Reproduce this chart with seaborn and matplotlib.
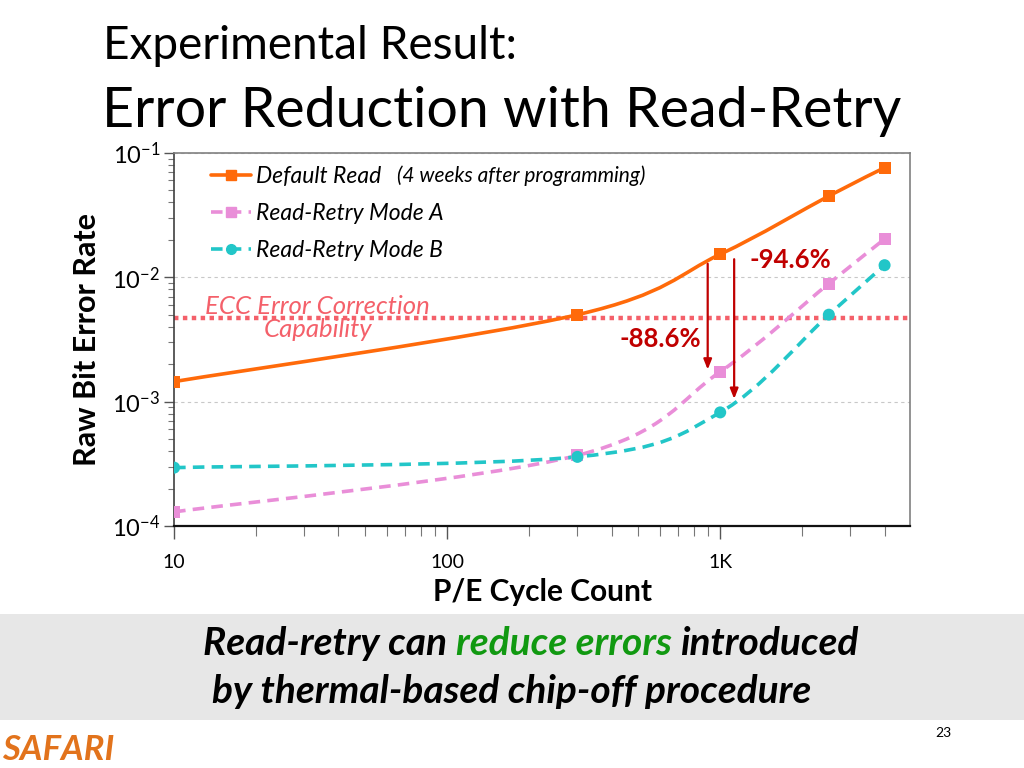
import numpy as np
import pandas as pd
import seaborn as sns
from matplotlib import pyplot as plt
from matplotlib.path import Path
from matplotlib.patches import PathPatch, Rectangle
from matplotlib.lines import Line2D

# Datos
pe_cycles = [10, 300, 1000, 2500, 4000]
default_read = [1.45e-3, 5.0e-3, 1.53e-2, 4.5e-2, 7.6e-2]
retry_a = [1.30e-4, 3.7e-4, 1.74e-3, 8.9e-3, 2.03e-2]
retry_b = [2.95e-4, 3.6e-4, 8.2e-4, 5.0e-3, 1.25e-2]
series_names = ["Default Read", "Read-Retry Mode A", "Read-Retry Mode B"]
ecc_limit = 4.7e-3
y_ticks = [1e-4, 1e-3, 1e-2, 1e-1]
y_tick_labels = ["$10^{-4}$", "$10^{-3}$", "$10^{-2}$", "$10^{-1}$"]
x_ticks = [10, 100, 1000]
x_tick_labels = ["10", "100", "1K"]

colors = {"Default Read": "#FF6A0A", "Read-Retry Mode A": "#E98ED8", "Read-Retry Mode B": "#22C6C8"}
markers = {"Default Read": "s", "Read-Retry Mode A": "s", "Read-Retry Mode B": "o"}
dashes = {"Default Read": "-", "Read-Retry Mode A": (0, (3.2, 2)), "Read-Retry Mode B": (0, (3.2, 2))}

df = pd.DataFrame({
    "pe": pe_cycles * 3,
    "rber": default_read + retry_a + retry_b,
    "serie": [s for s in series_names for _ in pe_cycles],
})

sns.set_theme(style="white")
plt.rcParams["font.family"] = ["Lato", "DejaVu Sans"]
plt.rcParams["mathtext.fontset"] = "custom"
plt.rcParams["mathtext.rm"] = "Lato"
plt.rcParams["mathtext.it"] = "Lato:italic"
plt.rcParams["mathtext.bf"] = "Lato:bold"
for clave in ["text.color", "axes.labelcolor", "xtick.labelcolor", "ytick.labelcolor"]:
    plt.rcParams[clave] = "black"

fig = plt.figure(figsize=(10.24, 7.68), dpi=100)
ax = fig.add_axes([0.170, 0.315, 0.719, 0.486])
ax.set_xscale("log")
ax.set_yscale("log")
ax.set_xlim(10, 4970)
ax.set_ylim(1e-4, 1e-1)


# Linea suavizada tipo Excel (Bezier en espacio log)
def curva_suave(xs, ys):
    lx = np.log10(xs)
    ly = np.log10(ys)
    n = len(lx)
    verts = [(lx[0], ly[0])]
    codes = [Path.MOVETO]
    for i in range(n - 1):
        p0 = max(i - 1, 0)
        p3 = min(i + 2, n - 1)
        c1 = (lx[i] + (lx[i + 1] - lx[p0]) / 6, ly[i] + (ly[i + 1] - ly[p0]) / 6)
        c2 = (lx[i + 1] - (lx[p3] - lx[i]) / 6, ly[i + 1] - (ly[p3] - ly[i]) / 6)
        verts += [c1, c2, (lx[i + 1], ly[i + 1])]
        codes += [Path.CURVE4] * 3
    verts = [(10 ** a, 10 ** b) for a, b in verts]
    return Path(verts, codes)


for nom in series_names:
    sub = df[df["serie"] == nom]
    patch = PathPatch(curva_suave(sub["pe"].values, sub["rber"].values), facecolor="none",
                      edgecolor=colors[nom], lw=2.6, linestyle=dashes[nom],
                      capstyle="butt", zorder=3)
    ax.add_patch(patch)

sns.scatterplot(data=df, x="pe", y="rber", hue="serie", style="serie",
                palette=colors, markers=markers, s=75, edgecolor="none",
                legend=False, ax=ax, zorder=4)

# Linea ECC
ax.axhline(ecc_limit, color="#F4606A", lw=3.2, linestyle=(0, (1, 1)), zorder=2)
ax.text(33.6, ecc_limit, "ECC Error Correction\nCapability", color="#F4606A",
        fontsize=18.5, style="italic", ha="center", va="center", linespacing=1.0, zorder=5)

# Flechas de reduccion
ax.annotate("", xy=(900, 1.72e-3), xytext=(900, 1.35e-2),
            arrowprops=dict(arrowstyle="-|>,head_length=0.5,head_width=0.2", color="#C00000", lw=1.6))
ax.annotate("", xy=(1125, 1.0e-3), xytext=(1125, 1.47e-2),
            arrowprops=dict(arrowstyle="-|>,head_length=0.5,head_width=0.2", color="#C00000", lw=1.6))
ax.text(603, 3.16e-3, "-88.6%", color="#C00000", fontsize=18.5, fontweight="bold",
        ha="center", va="center")
ax.text(1800, 1.37e-2, "-94.6%", color="#C00000", fontsize=18.5, fontweight="bold",
        ha="center", va="center")

# Ejes
ax.set_yticks(y_ticks)
ax.set_yticklabels(y_tick_labels)
ax.set_xticks(x_ticks)
ax.set_xticklabels(x_tick_labels)
ax.tick_params(axis="y", which="major", direction="out", length=7, width=1, labelsize=17,
               left=True, color="#555555", pad=3)
ax.tick_params(axis="y", which="minor", direction="out", length=4, width=0.8, left=True,
               color="#777777")
ax.tick_params(axis="x", which="major", direction="out", length=9, width=1, labelsize=14,
               bottom=True, color="#555555", pad=11)
ax.tick_params(axis="x", which="minor", direction="out", length=7, width=0.8, bottom=True,
               color="#777777")
ax.yaxis.grid(True, which="major", color="#C8C8C8", linestyle=(0, (3, 3)), lw=0.8)
ax.xaxis.grid(False)
ax.set_axisbelow(True)
for lado in ["top", "right"]:
    ax.spines[lado].set_color("#808080")
    ax.spines[lado].set_linewidth(1.2)
ax.spines["left"].set_color("#404040")
ax.spines["bottom"].set_color("#111111")
ax.spines["left"].set_linewidth(1.2)
ax.spines["bottom"].set_linewidth(1.6)

ax.set_xlabel("P/E Cycle Count", fontsize=21.5, fontweight="bold", labelpad=5)
ax.set_ylabel("Raw Bit Error Rate", fontsize=22, fontweight="bold", labelpad=8)

# Leyenda
handles = [Line2D([], [], color=colors[n], lw=2.6, linestyle=dashes[n], marker=markers[n],
                  markersize=7) for n in series_names]
ax.legend(handles, series_names, loc="upper left", bbox_to_anchor=(0.05, 0.966),
          frameon=False, prop={"style": "italic", "size": 16.5}, handlelength=1.75,
          handletextpad=0.2, labelspacing=0.7, borderpad=0, borderaxespad=0)
ax.text(0.303, 0.938, "(4 weeks after programming)", transform=ax.transAxes, fontsize=15,
        style="italic", ha="left", va="center")

# Titulo
fig.text(0.101, 0.94, "Experimental Result:", fontsize=33, va="center")
fig.text(0.100, 0.855, "Error Reduction with Read-Retry", fontsize=40, va="center")

# Banda inferior con mensaje
fig.patches.append(Rectangle((0, 0.0625), 1, 0.138, transform=fig.transFigure,
                             facecolor="#E7E7E7", edgecolor="none", zorder=0))
renderer = fig.canvas.get_renderer()
estilo = dict(fontsize=28, fontweight="bold", style="italic", va="center")


def ancho(txt):
    t = fig.text(0, 0, txt, **estilo)
    w = t.get_window_extent(renderer).width
    t.remove()
    return w


espacio = ancho("x x") - ancho("xx")
x_px = 203
for trozo, col in [("Read-retry can", "black"), ("reduce errors", "#119911"), ("introduced", "black")]:
    fig.text(x_px / 1024, 0.1615, trozo, color=col, **estilo)
    x_px += ancho(trozo) + espacio
fig.text(212 / 1024, 0.099, "by thermal-based chip-off procedure", color="black", **estilo)

fig.text(0.002, 0.024, "SAFARI", color="#E2731C", fontsize=25, fontweight="bold",
         style="italic", va="center")
fig.text(0.913, 0.045, "23", fontsize=10, va="center")

fig.savefig("out.png", dpi=100)
